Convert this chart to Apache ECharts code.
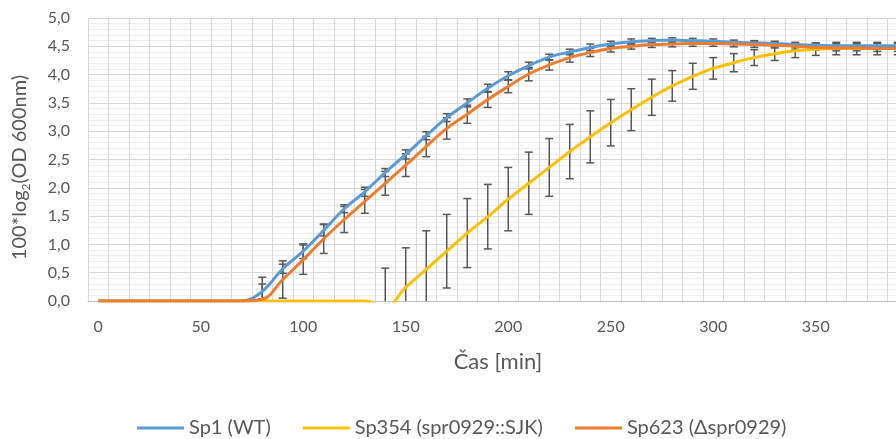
<!DOCTYPE html>
<html>
<head>
<meta charset="utf-8">
<title>Růstové křivky</title>
<script src="https://cdn.jsdelivr.net/npm/echarts@6/dist/echarts.min.js"></script>
<style>
  html, body { margin: 0; padding: 0; background: #ffffff; }
  #chart { width: 896px; height: 439px; }
</style>
</head>
<body>
<div id="chart"></div>
<script>
// Time points [min]
const minutes = [0, 10, 20, 30, 40, 50, 60, 70, 80, 90, 100, 110, 120, 130, 140, 150, 160, 170, 180, 190,
                 200, 210, 220, 230, 240, 250, 260, 270, 280, 290, 300, 310, 320, 330, 340, 350, 360, 370, 380, 390];

// Sp1 (WT): mean and standard deviation
const sp1Mean = [0, 0, 0, 0, 0, 0, 0, 0, 0.17, 0.57, 0.88, 1.25, 1.63, 1.93, 2.27, 2.59, 2.92, 3.24, 3.50, 3.76,
                 3.98, 4.16, 4.31, 4.40, 4.48, 4.54, 4.58, 4.60, 4.61, 4.60, 4.59, 4.57, 4.56, 4.55, 4.53, 4.52, 4.51, 4.51, 4.51, 4.51];
const sp1Err  = [0, 0, 0, 0, 0, 0, 0, 0, 0.13, 0.08, 0.13, 0.10, 0.07, 0.08, 0.07, 0.08, 0.07, 0.07, 0.07, 0.07,
                 0.07, 0.06, 0.05, 0.05, 0.06, 0.05, 0.05, 0.04, 0.04, 0.04, 0.04, 0.04, 0.04, 0.04, 0.04, 0.04, 0.04, 0.04, 0.04, 0.04];

// Sp354 (spr0929::SJK): mean and standard deviation
const sp354Mean = [0, 0, 0, 0, 0, 0, 0, 0, 0, 0, 0, 0, 0, 0, -0.10, 0.24, 0.56, 0.88, 1.20, 1.49,
                   1.80, 2.08, 2.36, 2.64, 2.90, 3.15, 3.38, 3.60, 3.80, 3.97, 4.11, 4.21, 4.30, 4.37, 4.42, 4.45, 4.46, 4.46, 4.46, 4.46];
const sp354Err  = [0, 0, 0, 0, 0, 0, 0, 0, 0, 0, 0, 0, 0, 0, 0.68, 0.70, 0.68, 0.65, 0.61, 0.57,
                   0.56, 0.55, 0.51, 0.48, 0.46, 0.41, 0.37, 0.32, 0.27, 0.23, 0.19, 0.16, 0.14, 0.12, 0.12, 0.11, 0.11, 0.11, 0.11, 0.11];

// Sp623 (Δspr0929): mean and standard deviation
const sp623Mean = [0, 0, 0, 0, 0, 0, 0, 0, 0.03, 0.38, 0.73, 1.10, 1.44, 1.76, 2.08, 2.40, 2.73, 3.05, 3.30, 3.56,
                   3.79, 4.01, 4.17, 4.30, 4.39, 4.46, 4.50, 4.53, 4.54, 4.55, 4.55, 4.54, 4.53, 4.52, 4.50, 4.48, 4.47, 4.47, 4.46, 4.46];
const sp623Err  = [0, 0, 0, 0, 0, 0, 0, 0, 0.39, 0.33, 0.26, 0.26, 0.23, 0.21, 0.21, 0.20, 0.18, 0.19, 0.16, 0.14,
                   0.11, 0.12, 0.09, 0.08, 0.07, 0.06, 0.05, 0.05, 0.05, 0.05, 0.05, 0.05, 0.05, 0.05, 0.05, 0.05, 0.05, 0.05, 0.05, 0.05];

const seriesNames = ['Sp1 (WT)', 'Sp354 (spr0929::SJK)', 'Sp623 (Δspr0929)'];
const seriesColors = ['#5B9BD5', '#FFC000', '#ED7D31'];

const textColor = '#595959';
const fontFamily = 'Lato, "Open Sans", sans-serif';

// [category index, mean, sd] triples for the error bars
function errorData(mean, err) {
  const out = [];
  mean.forEach((v, i) => { if (err[i] > 0) out.push([i, v, err[i]]); });
  return out;
}

function renderErrorBar(params, api) {
  const i = api.value(0);
  const v = api.value(1);
  const e = api.value(2);
  const hi = api.coord([i, v + e]);
  const lo = api.coord([i, v - e]);
  const half = 4;
  const style = { stroke: '#595959', lineWidth: 1.5, fill: null };
  return {
    type: 'group',
    children: [
      { type: 'line', shape: { x1: hi[0], y1: hi[1], x2: lo[0], y2: lo[1] }, style },
      { type: 'line', shape: { x1: hi[0] - half, y1: hi[1], x2: hi[0] + half, y2: hi[1] }, style },
      { type: 'line', shape: { x1: lo[0] - half, y1: lo[1], x2: lo[0] + half, y2: lo[1] }, style }
    ]
  };
}

function errorSeries(mean, err) {
  return {
    type: 'custom',
    renderItem: renderErrorBar,
    data: errorData(mean, err),
    clip: true,
    silent: true,
    z: 1
  };
}

function lineSeries(idx, values) {
  return {
    name: seriesNames[idx],
    type: 'line',
    data: values,
    smooth: 0.4,
    symbol: 'none',
    clip: true,
    lineStyle: { color: seriesColors[idx], width: 3 },
    itemStyle: { color: seriesColors[idx] },
    z: 3
  };
}

const chart = echarts.init(document.getElementById('chart'), null, { renderer: 'canvas' });

chart.setOption({
  animation: false,
  backgroundColor: '#ffffff',
  textStyle: { fontFamily },
  // The plot area runs on past the right edge of the canvas
  grid: { left: 88, top: 18, width: 820, height: 283, outerBoundsMode: 'none', containLabel: false },
  legend: {
    data: seriesNames,
    left: 132,
    top: 413,
    icon: 'rect',
    itemWidth: 47,
    itemHeight: 3,
    itemGap: 32,
    textStyle: { color: textColor, fontSize: 20, fontFamily }
  },
  xAxis: {
    type: 'category',
    data: minutes.map(String),
    boundaryGap: true,
    name: 'Čas [min]',
    nameLocation: 'middle',
    nameGap: 50,
    nameTextStyle: { color: textColor, fontSize: 22, fontFamily },
    axisLine: { show: true, lineStyle: { color: '#BFBFBF', width: 1 } },
    axisTick: { show: false },
    axisLabel: { interval: 4, color: textColor, fontSize: 16, margin: 18, fontFamily },
    splitLine: { show: true, interval: 0, lineStyle: { color: '#D9D9D9', width: 1 } }
  },
  yAxis: {
    type: 'value',
    min: 0,
    max: 5,
    interval: 0.5,
    name: '100*log{sub|2}(OD 600nm)',
    nameLocation: 'middle',
    nameGap: 56,
    nameRotate: 90,
    nameTextStyle: {
      color: textColor, fontSize: 20, fontFamily, lineHeight: 24,
      padding: [0, 16, 0, 0],
      rich: { sub: { fontSize: 12, color: textColor, fontFamily, verticalAlign: 'bottom', lineHeight: 24 } }
    },
    axisLine: { show: false },
    axisTick: { show: false },
    axisLabel: {
      color: textColor, fontSize: 16, margin: 18, fontFamily,
      formatter: v => v.toFixed(1).replace('.', ',')
    },
    splitLine: { show: true, lineStyle: { color: '#D9D9D9', width: 1 } },
    minorTick: { show: false, splitNumber: 5 },
    minorSplitLine: { show: true, lineStyle: { color: '#EEEEEE', width: 1 } }
  },
  series: [
    errorSeries(sp1Mean, sp1Err),
    errorSeries(sp354Mean, sp354Err),
    errorSeries(sp623Mean, sp623Err),
    lineSeries(0, sp1Mean),
    lineSeries(1, sp354Mean),
    lineSeries(2, sp623Mean)
  ]
});
</script>
</body>
</html>
